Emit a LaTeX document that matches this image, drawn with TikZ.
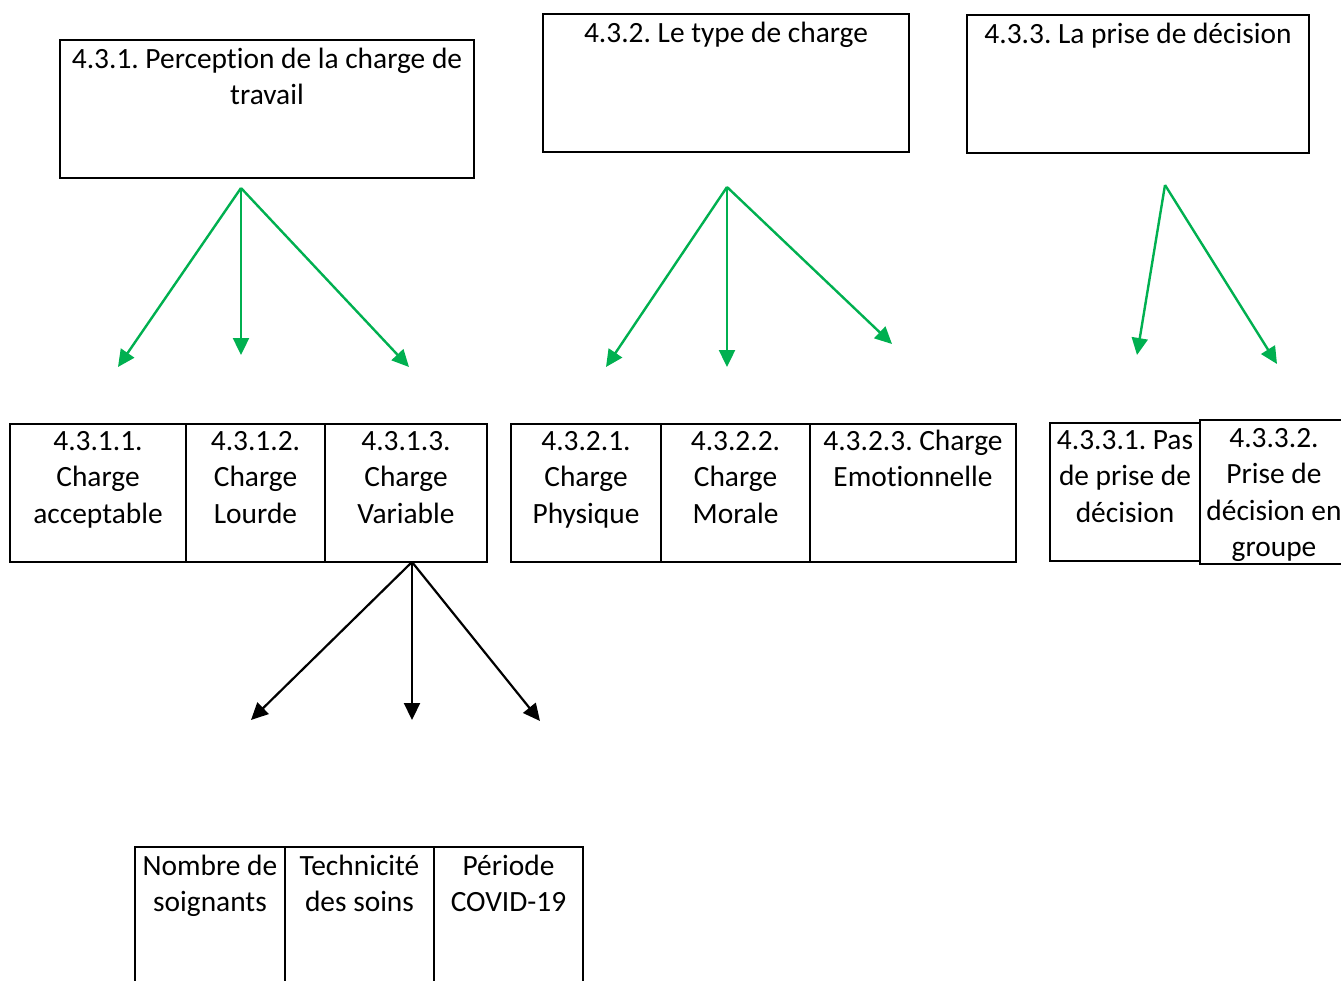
\documentclass[tikz,border=0pt]{standalone}
\usepackage{fontspec}
\setmainfont{Carlito}[Ligatures=NoCommon]
\usepackage{xcolor}
\usetikzlibrary{arrows.meta,positioning}
\frenchspacing

\definecolor{arrgreen}{RGB}{0,176,80}

\begin{document}
\begin{tikzpicture}[
    x=1pt, y=-1pt,
    cell/.style={draw=black, line width=1.6pt, inner sep=0pt, outer sep=0pt,
                 align=flush center, font=\fontsize{29.4}{36.5}\selectfont,
                 text height=26pt, text depth=112pt},
    headcell/.style={cell, anchor=north west, text height=28pt, text depth=110pt},
    garr/.style={-{Triangle[length=17pt,width=16pt]}, line width=2.4pt, draw=arrgreen, fill=arrgreen},
    karr/.style={-{Triangle[length=17pt,width=16pt]}, line width=2.2pt, draw=black}
]
\useasboundingbox (0,0) rectangle (1341,980);

% niveau 1
\node[headcell, text width=414pt] (perc) at (60,40) {4.3.1. Perception de la charge de\\travail};
\node[headcell, text width=366pt] (type) at (543,14) {4.3.2. Le type de charge};
\node[headcell, text width=342pt] (prise) at (967,15) {4.3.3. La prise de décision};

% niveau 2
\node[cell, anchor=north west, text width=176pt] (acc) at (10,424) {4.3.1.1.\\Charge\\acceptable};
\node[cell, text width=139pt, right=0pt of acc] (lourde) {4.3.1.2.\\Charge\\Lourde};
\node[cell, text width=162pt, right=0pt of lourde] (var) {4.3.1.3.\\Charge\\Variable};

\node[cell, anchor=north west, text width=150pt] (phys) at (511,424) {4.3.2.1.\\Charge\\Physique};
\node[cell, text width=149pt, right=0pt of phys] (morale) {4.3.2.2.\\Charge\\Morale};
\node[cell, text width=206pt, right=0pt of morale] (emo) {4.3.2.3. Charge\\Emotionnelle};

\node[cell, anchor=north west, text width=150pt] (pas) at (1050,423) {4.3.3.1. Pas\\de prise de\\décision};
\node[cell, text width=148pt, right=0pt of pas, text height=27pt, text depth=117pt] (groupe) {4.3.3.2.\\Prise de\\décision en\\groupe};

% niveau 3
\node[headcell, text width=150pt] (nombre) at (135,847) {Nombre de\\soignants};
\node[cell, text height=28pt, text depth=110pt, text width=149pt, right=0pt of nombre] (techn) {Technicité\\des soins};
\node[cell, text height=28pt, text depth=110pt, text width=149pt, right=0pt of techn] (periode) {Période\\COVID-19};

% fleches vertes
\coordinate (perc-o) at (241,188);
\coordinate (acc-t) at (118,367);
\coordinate (lourde-t) at (241,355);
\coordinate (var-t) at (409,367);
\coordinate (type-o) at (727,187);
\coordinate (phys-t) at (606,367);
\coordinate (morale-t) at (727,367);
\coordinate (emo-t) at (892,344);
\coordinate (prise-o) at (1165,185);
\coordinate (pas-t) at (1137,355);
\coordinate (groupe-t) at (1277,364);

\draw[garr] (perc-o) -- (acc-t);
\draw[garr] (perc-o) -- (lourde-t);
\draw[garr] (perc-o) -- (var-t);
\draw[garr] (type-o) -- (phys-t);
\draw[garr] (type-o) -- (morale-t);
\draw[garr] (type-o) -- (emo-t);
\draw[garr] (prise-o) -- (pas-t);
\draw[garr] (prise-o) -- (groupe-t);

% fleches noires
\coordinate (var-o) at ([xshift=6pt]var.south);
\coordinate (nombre-t) at (251,720);
\coordinate (techn-t) at (412,720);
\coordinate (periode-t) at (540,721);

\draw[karr] (var-o) -- (nombre-t);
\draw[karr] (var-o) -- (techn-t);
\draw[karr] (var-o) -- (periode-t);
\end{tikzpicture}
\end{document}
